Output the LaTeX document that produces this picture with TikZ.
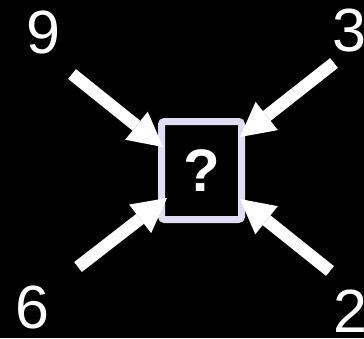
\documentclass[tikz,border=0pt]{standalone}
\usepackage{fontspec}
\setmainfont{Liberation Sans}
\usetikzlibrary{arrows.meta}
\definecolor{lav}{RGB}{224,220,242}
\begin{document}
\begin{tikzpicture}[x=1pt,y=-1pt,
  num/.style={text=white,inner sep=0pt,font=\fontsize{61}{61}\selectfont},
  qbox/.style={draw=lav,line width=7pt,rounded corners=3pt,minimum width=80pt,minimum height=98pt,
    inner sep=0pt,text=white,font=\fontsize{60}{60}\selectfont\bfseries},
  bigarrow/.style={draw=white,line width=12.5pt,-{Triangle[length=34pt,width=36pt,line width=0pt]}}]
\fill[black] (0,0) rectangle (364,338);
\useasboundingbox (0,0) rectangle (364,338);
\node[qbox] (box) at (201.5,170.5) {?};
\node[num] (n9) at (43.5,32) {9};
\node[num] (n3) at (349,30) {3};
\node[num] (n6) at (32.5,307) {6};
\node[num] (n2) at (350.5,311.5) {2};
\coordinate (s9) at (72,74);
\coordinate (t9) at (163,147);
\coordinate (s3) at (334,63);
\coordinate (t3) at (240,137);
\coordinate (s6) at (78,267);
\coordinate (t6) at (167,198);
\coordinate (s2) at (330,271);
\coordinate (t2) at (240,199);
\draw[bigarrow] (s9) -- (t9);
\draw[bigarrow] (s3) -- (t3);
\draw[bigarrow] (s6) -- (t6);
\draw[bigarrow] (s2) -- (t2);
\end{tikzpicture}
\end{document}
